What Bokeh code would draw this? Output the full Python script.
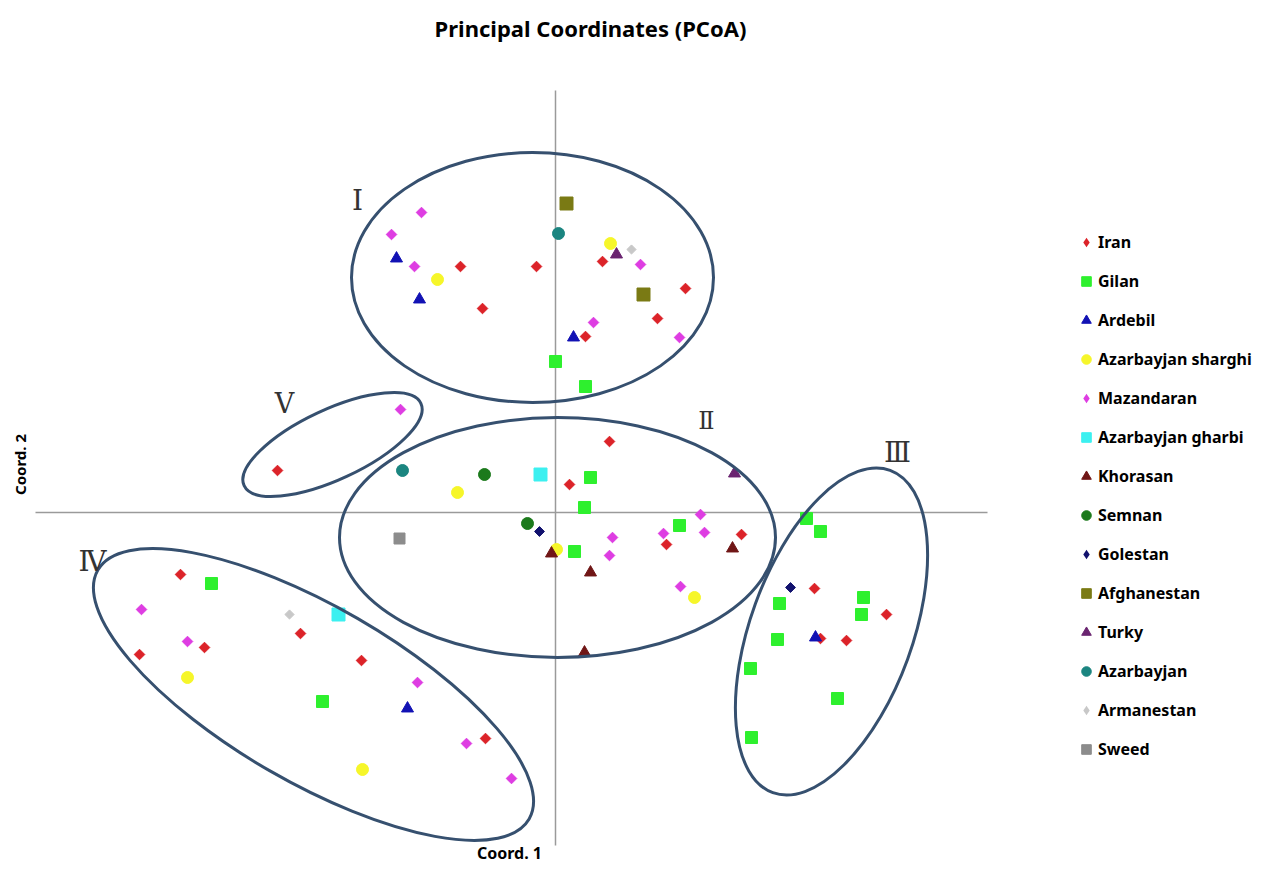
import numpy as np
from bokeh.plotting import figure
from bokeh.models import Label, Legend, LegendItem
from bokeh.embed import file_html
from bokeh.resources import INLINE

# ---- data (Coord. 1, Coord. 2) ----
IRAN_X = [-0.95, -0.73, -0.19, 0.47, 1.30, 1.02, 0.30, -2.78, 0.54, 0.14, 1.11, 1.86,
          -3.75, -2.55, -3.51, -4.16, -1.94, -0.70, 2.59, 3.31, 2.65, 2.91]
IRAN_Y = [2.46, 2.04, 2.46, 2.51, 2.24, 1.94, 1.76, 0.42, 0.71, 0.28, -0.32, -0.22,
          -0.62, -1.21, -1.35, -1.42, -1.48, -2.26, -0.76, -1.02, -1.26, -1.28]
GILAN_X = [0.00, 0.30, 0.35, 0.29, 0.19, 1.24, -3.44, -2.33, 2.51, 2.65, 3.08, 2.24,
           3.06, 2.22, 1.95, 2.82, 1.96]
GILAN_Y = [1.51, 1.26, 0.35, 0.05, -0.39, -0.13, -0.71, -1.89, -0.06, -0.19, -0.85, -0.91,
           -1.02, -1.27, -1.56, -1.86, -2.25]
ARDEBIL_X = [-1.59, -1.36, 0.18, -1.48, 2.60]
ARDEBIL_Y = [2.54, 2.13, 1.75, -1.96, -1.25]
AZ_SHARGHI_X = [-1.18, 0.55, -0.98, 0.01, 1.39, -3.68, -1.93]
AZ_SHARGHI_Y = [2.33, 2.69, 0.20, -0.37, -0.85, -1.65, -2.57]
MAZANDARAN_X = [-1.34, -1.64, -1.41, 0.85, 0.38, 1.24, -1.55, 0.57, 0.54, 1.08, 1.45, 1.49,
                1.25, -4.14, -3.68, -1.38, -0.89, -0.44]
MAZANDARAN_Y = [3.00, 2.78, 2.46, 2.48, 1.90, 1.75, 1.03, -0.25, -0.43, -0.21, -0.02, -0.20,
                -0.74, -0.97, -1.29, -1.70, -2.31, -2.66]
AZ_GHARBI_X = [-0.15, -2.17]
AZ_GHARBI_Y = [0.38, -1.02]
KHORASAN_X = [-0.04, 0.35, 1.77, 0.29]
KHORASAN_Y = [-0.41, -0.60, -0.36, -1.40]
SEMNAN_X = [-0.71, -0.28]
SEMNAN_Y = [0.38, -0.11]
GOLESTAN_X = [-0.16, 2.35]
GOLESTAN_Y = [-0.19, -0.75]
AFGHANESTAN_X = [0.11, 0.88]
AFGHANESTAN_Y = [3.09, 2.18]
TURKY_X = [0.61, 1.79]
TURKY_Y = [2.58, 0.39]
AZARBAYJAN_X = [0.03, -1.53]
AZARBAYJAN_Y = [2.79, 0.42]
ARMANESTAN_X = [0.76, -2.66]
ARMANESTAN_Y = [2.63, -1.02]
SWEED_X = [-1.56]
SWEED_Y = [-0.26]

# cluster ellipses I, II, III, IV, V
CLUSTER_NAMES = ["Ⅰ", "Ⅱ", "Ⅲ", "Ⅳ", "Ⅴ"]
CLUSTER_CX = [-0.23, 0.02, 2.76, -2.42, -2.23]
CLUSTER_CY = [2.35, -0.25, -1.19, -1.82, 0.68]
CLUSTER_W = [3.62, 4.36, 3.43, 4.98, 1.95]
CLUSTER_H = [2.50, 2.40, 1.62, 1.76, 0.70]
CLUSTER_ANGLE_DEG = [0, 0, 70, -30, 25]

W, H = 1255, 868
p = figure(width=W, height=H, x_range=(-5.55, (W - 555) / 100), y_range=((512 - H) / 100, 5.12),
           x_axis_location=None, y_axis_location=None, toolbar_location=None,
           output_backend="svg", min_border=0, title=None,
           background_fill_color="white", border_fill_color="white")
p.outline_line_color = None
p.grid.visible = False

# crossing axis lines
p.segment(x0=[0.0, -5.20], y0=[4.22, 0.0], x1=[0.0, 4.32], y1=[-3.33, 0.0],
          line_color="#9a9a9a", line_width=1.5)

# (name, xs, ys, marker, size, is_diamond, color)
series = [
    ("Iran", IRAN_X, IRAN_Y, "square", 7.5, True, "#dc2329"),
    ("Gilan", GILAN_X, GILAN_Y, "square", 12, False, "#2ef02e"),
    ("Ardebil", ARDEBIL_X, ARDEBIL_Y, "triangle", 12, False, "#1212b4"),
    ("Azarbayjan sharghi", AZ_SHARGHI_X, AZ_SHARGHI_Y, "circle", 12, False, "#f6f62a"),
    ("Mazandaran", MAZANDARAN_X, MAZANDARAN_Y, "square", 7.5, True, "#de3de2"),
    ("Azarbayjan gharbi", AZ_GHARBI_X, AZ_GHARBI_Y, "square", 13, False, "#3cf0f0"),
    ("Khorasan", KHORASAN_X, KHORASAN_Y, "triangle", 12, False, "#701616"),
    ("Semnan", SEMNAN_X, SEMNAN_Y, "circle", 12, False, "#1c7a1c"),
    ("Golestan", GOLESTAN_X, GOLESTAN_Y, "square", 7, True, "#12126e"),
    ("Afghanestan", AFGHANESTAN_X, AFGHANESTAN_Y, "square", 13, False, "#7a7a14"),
    ("Turky", TURKY_X, TURKY_Y, "triangle", 12, False, "#6a2470"),
    ("Azarbayjan", AZARBAYJAN_X, AZARBAYJAN_Y, "circle", 12, False, "#1b8580"),
    ("Armanestan", ARMANESTAN_X, ARMANESTAN_Y, "square", 6.5, True, "#c8c8c8"),
    ("Sweed", SWEED_X, SWEED_Y, "square", 11, False, "#8c8c8c"),
]
items = []
for name, xs, ys, marker, size, is_diamond, color in series:
    if is_diamond:
        # diamond marker hidden under the rotated square; it supplies the legend swatch
        sw = p.scatter(xs, ys, marker="diamond", size=size * 1.3, fill_color=color,
                       line_color=None)
        p.scatter(xs, ys, marker="square", size=size, angle=np.pi / 4,
                  fill_color=color, line_color=color)
        items.append(LegendItem(label=name, renderers=[sw]))
    else:
        r = p.scatter(xs, ys, marker=marker, size=size, fill_color=color, line_color=color)
        items.append(LegendItem(label=name, renderers=[r]))

p.ellipse(x=CLUSTER_CX, y=CLUSTER_CY, width=CLUSTER_W, height=CLUSTER_H,
          angle=[np.deg2rad(a) for a in CLUSTER_ANGLE_DEG], angle_units="rad",
          fill_color=None, line_color="#36506f", line_width=3)

# roman numerals
numerals = [(CLUSTER_NAMES[0], -1.98, 3.12, "28px"), (CLUSTER_NAMES[1], 1.51, 0.92, "24px"),
            (CLUSTER_NAMES[2], 3.42, 0.60, "28px"), (CLUSTER_NAMES[3], -4.63, -0.49, "28px"),
            (CLUSTER_NAMES[4], -2.71, 1.09, "27px")]
for t, x, y, fs in numerals:
    p.add_layout(Label(x=x, y=y, text=t, text_font="DejaVu Serif", text_font_size=fs,
                       text_align="center", text_baseline="middle", text_color="#333333"))

p.add_layout(Label(x=0.35, y=4.85, text="Principal Coordinates (PCoA)", text_font="Noto Sans",
                   text_font_style="bold", text_font_size="22px", text_align="center",
                   text_baseline="middle", text_color="black"))
p.add_layout(Label(x=-0.46, y=-3.40, text="Coord. 1", text_font="Noto Sans",
                   text_font_style="bold", text_font_size="16px", text_align="center",
                   text_baseline="middle", text_color="black"))
p.add_layout(Label(x=-5.36, y=0.48, text="Coord. 2", text_font="Noto Sans",
                   text_font_style="bold", text_font_size="15px", text_align="center",
                   text_baseline="middle", angle=np.pi / 2, text_color="black"))

leg = Legend(items=items, location=(1074, 106), margin=0, padding=0, spacing=13,
             glyph_width=24, glyph_height=26, label_height=26, label_standoff=0,
             label_text_font="Noto Sans", label_text_font_style="bold",
             label_text_font_size="16px", label_text_color="black",
             border_line_color=None, background_fill_alpha=0)
p.add_layout(leg, "center")

open("out.html", "w").write(file_html(p, INLINE))
